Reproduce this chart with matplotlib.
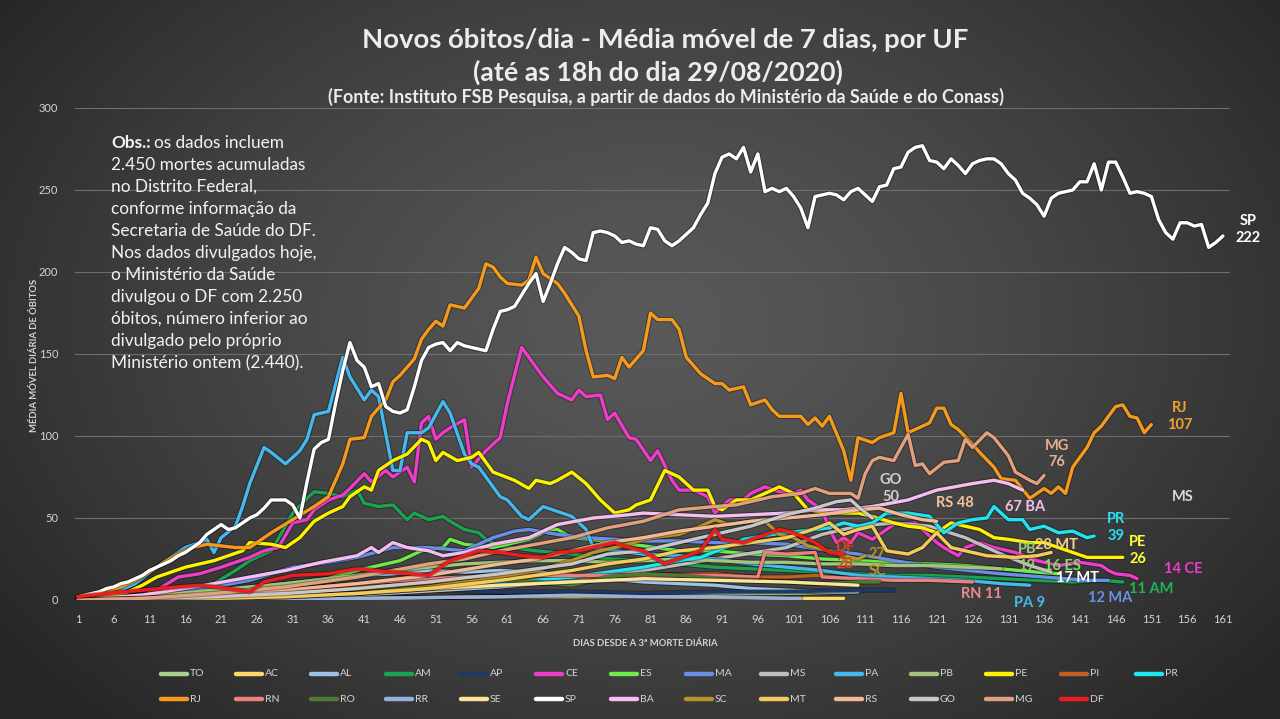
import matplotlib
matplotlib.use('Agg')
import numpy as np
import matplotlib.pyplot as plt
import matplotlib.patheffects as pe
from matplotlib.lines import Line2D

plt.rcParams['font.family'] = ['Lato', 'DejaVu Sans']

# ---------------- DATA ----------------
SP_days = list(range(1, 162))
SP_vals = [2, 3, 4, 5, 7, 8, 10, 11, 13, 15,
           18, 20, 22, 24, 27, 29, 32, 35, 40, 43,
           46, 43, 44, 47, 50, 52, 56, 61, 61, 61,
           58, 50, 72, 92, 96, 98, 120, 140, 157, 146,
           142, 130, 132, 118, 115, 114, 116, 130, 146, 154,
           156, 157, 152, 157, 155, 154, 153, 152, 165, 176,
           177, 179, 186, 193, 199, 182, 193, 205, 215, 212,
           208, 207, 224, 225, 224, 222, 218, 219, 217, 216,
           227, 226, 219, 216, 219, 223, 227, 235, 242, 260,
           270, 272, 269, 276, 261, 272, 249, 251, 249, 251,
           246, 239, 227, 246, 247, 248, 247, 244, 249, 251,
           247, 243, 252, 253, 263, 264, 273, 276, 277, 268,
           267, 263, 269, 265, 260, 266, 268, 269, 269, 266,
           260, 256, 248, 245, 241, 234, 245, 248, 249, 250,
           255, 255, 266, 250, 267, 267, 258, 248, 249, 248,
           246, 232, 224, 220, 230, 230, 228, 229, 215, 218, 222]

RJ = [(1, 1), (3, 3), (5, 5), (7, 8), (9, 12), (11, 17), (13, 23), (15, 28), (17, 32), (19, 34),
      (21, 33), (23, 32), (25, 32), (26, 35), (28, 41), (31, 49), (34, 57), (36, 63), (37, 73), (38, 83),
      (39, 98), (41, 99), (42, 112), (44, 122), (45, 133), (46, 137), (48, 147), (49, 159), (50, 165), (51, 170),
      (52, 167), (53, 180), (55, 178), (57, 190), (58, 205), (59, 203), (60, 197), (61, 193), (63, 192), (64, 195),
      (65, 209), (66, 199), (68, 193), (69, 187), (71, 173), (72, 152), (73, 136), (75, 137), (76, 135), (77, 148),
      (78, 142), (80, 152), (81, 175), (82, 171), (84, 171), (85, 165), (86, 148), (88, 138), (90, 132), (91, 132),
      (92, 128), (94, 130), (95, 119), (97, 122), (98, 116), (99, 112), (101, 112), (102, 112), (103, 107), (104, 111),
      (105, 106), (106, 112), (108, 91), (109, 73), (110, 99), (112, 96), (113, 99), (115, 102), (116, 126), (117, 102),
      (118, 104), (120, 108), (121, 117), (122, 117), (123, 107), (124, 104), (126, 95), (127, 90), (129, 81), (130, 74),
      (132, 73), (134, 62), (136, 68), (137, 65), (138, 69), (139, 65), (140, 81), (142, 93), (143, 102), (144, 106),
      (146, 118), (147, 119), (148, 112), (149, 111), (150, 102), (151, 107)]

CE = [(1, 0), (5, 1), (10, 3), (12, 6), (15, 14), (18, 16), (21, 20), (25, 26), (27, 30), (29, 32), (31, 47),
      (33, 49), (34, 55), (36, 61), (38, 64), (39, 68), (41, 77), (42, 72), (44, 79), (45, 75), (47, 81), (48, 72),
      (49, 108), (50, 112), (51, 98), (52, 102), (53, 105), (55, 110), (56, 81), (58, 91), (60, 99), (61, 120),
      (63, 154), (65, 142), (66, 136), (68, 126), (70, 122), (71, 128), (72, 124), (74, 125), (75, 110), (76, 114),
      (78, 99), (79, 98), (81, 85), (82, 91), (84, 73), (85, 67), (87, 67), (89, 63), (90, 53), (92, 61), (94, 61),
      (95, 65), (97, 69), (99, 66), (101, 65), (102, 67), (103, 61), (105, 55), (106, 43), (107, 35), (108, 38),
      (109, 35), (110, 41), (112, 37), (114, 43), (115, 46), (118, 47), (119, 43), (121, 35), (122, 32), (124, 27),
      (125, 32), (127, 35), (129, 32), (132, 29), (135, 24), (138, 21), (141, 23), (144, 21), (145, 18), (146, 16),
      (148, 15), (149, 13)]

PA = [(1, 0), (3, 1), (6, 4), (9, 10), (12, 20), (14, 26), (16, 32), (18, 35), (19, 37), (20, 29), (21, 38),
      (23, 45), (24, 57), (25, 71), (27, 93), (28, 90), (30, 83), (32, 91), (33, 98), (34, 113), (36, 115),
      (38, 148), (39, 136), (41, 122), (42, 128), (43, 124), (45, 79), (46, 79), (47, 102), (49, 102), (50, 105),
      (52, 121), (53, 114), (55, 89), (56, 83), (57, 81), (59, 69), (60, 63), (61, 61), (63, 51), (64, 49),
      (66, 57), (68, 54), (70, 51), (72, 43), (73, 32), (76, 30), (80, 28), (85, 27), (90, 25), (95, 22),
      (100, 20), (105, 18), (110, 15), (115, 14), (120, 13), (125, 12), (130, 10), (134, 9)]

PE = [(1, 0), (5, 2), (8, 5), (10, 9), (12, 14), (16, 20), (20, 24), (24, 30), (25, 35), (28, 34), (30, 32),
      (32, 38), (34, 48), (36, 53), (38, 57), (39, 63), (41, 69), (42, 67), (43, 79), (45, 85), (47, 89), (49, 98),
      (50, 96), (51, 85), (52, 90), (54, 85), (56, 87), (57, 90), (59, 78), (62, 73), (64, 68), (65, 73), (67, 71),
      (68, 73), (70, 78), (72, 71), (74, 61), (76, 53), (78, 55), (79, 58), (81, 61), (83, 79), (85, 75), (87, 67),
      (89, 67), (90, 57), (91, 55), (93, 61), (95, 61), (97, 65), (99, 69), (101, 65), (103, 55), (106, 53),
      (108, 53), (110, 53), (112, 51), (115, 47), (117, 45), (119, 44), (121, 41), (123, 47), (125, 45), (127, 43),
      (129, 38), (131, 37), (134, 35), (136, 35), (138, 32), (140, 29), (142, 26), (144, 26), (147, 26)]

AM = [(1, 0), (10, 2), (15, 5), (20, 10), (23, 18), (25, 24), (28, 30), (30, 45), (31, 53), (33, 62), (34, 66),
      (36, 65), (38, 63), (40, 67), (41, 59), (43, 57), (45, 58), (47, 49), (48, 53), (50, 49), (52, 51), (53, 48),
      (55, 43), (57, 41), (58, 37), (60, 33), (65, 30), (70, 28), (75, 25), (80, 24), (85, 22), (90, 20), (95, 19),
      (100, 18), (105, 17), (110, 16), (115, 15), (120, 15), (125, 14), (130, 13), (135, 12), (140, 11), (144, 12),
      (147, 11)]

MG = [(1, 0), (10, 1), (20, 4), (30, 8), (40, 14), (50, 22), (55, 25), (60, 30), (65, 34), (70, 38), (75, 44),
      (80, 48), (85, 55), (90, 57), (93, 58), (98, 63), (102, 65), (104, 68), (106, 65), (109, 65), (110, 62),
      (111, 77), (112, 85), (113, 87), (115, 85), (117, 101), (118, 82), (119, 83), (120, 77), (122, 84), (124, 85),
      (125, 98), (126, 93), (128, 102), (129, 99), (131, 88), (132, 78), (134, 73), (135, 71), (136, 76)]

BA = [(1, 0), (10, 3), (20, 10), (30, 18), (35, 23), (40, 27), (42, 32), (43, 29), (45, 35), (47, 32), (50, 30),
      (52, 27), (55, 29), (59, 34), (64, 38), (68, 46), (73, 50), (78, 52), (80, 53), (85, 52), (90, 51), (95, 52),
      (100, 53), (104, 55), (108, 55), (112, 57), (117, 61), (121, 67), (126, 71), (129, 73), (131, 71), (133, 67)]

GO = [(1, 0), (10, 1), (20, 2), (30, 4), (40, 7), (50, 11), (60, 16), (70, 22), (75, 28), (80, 30), (85, 35),
      (90, 40), (95, 45), (100, 52), (104, 56), (107, 60), (109, 61), (110, 57), (112, 50)]

MS = [(1, 0), (20, 1), (40, 3), (60, 8), (70, 12), (80, 18), (90, 25), (100, 32), (105, 40), (110, 45), (115, 47),
      (120, 45), (125, 38), (130, 28), (134, 21), (137, 17)]

RS = [(1, 0), (10, 1), (20, 3), (30, 6), (40, 10), (50, 15), (60, 22), (65, 25), (70, 30), (75, 35), (80, 38),
      (85, 42), (90, 45), (95, 48), (100, 50), (105, 52), (110, 55), (113, 56), (116, 52), (119, 49), (121, 48)]

PR = [(1, 0), (20, 1), (30, 2), (40, 4), (50, 7), (60, 10), (70, 14), (75, 17), (80, 20), (85, 24), (88, 26),
      (92, 33), (94, 37), (98, 40), (102, 42), (106, 44), (108, 47), (110, 45), (112, 47), (114, 53), (117, 53),
      (120, 51), (122, 41), (124, 47), (126, 49), (128, 50), (129, 57), (131, 49), (133, 49), (134, 43), (136, 45),
      (138, 41), (140, 42), (142, 38), (143, 39)]

DF = [(1, 2), (5, 4), (10, 6), (15, 8), (18, 9), (22, 7), (25, 5), (27, 11), (31, 15), (36, 16), (40, 19),
      (45, 17), (50, 15), (53, 24), (57, 30), (60, 29), (63, 27), (66, 26), (68, 29), (71, 30), (76, 35), (78, 32),
      (80, 30), (83, 22), (88, 30), (90, 43), (91, 37), (94, 35), (99, 43), (101, 41), (104, 35), (106, 29), (108, 28)]

ES = [(1, 0), (10, 1), (20, 3), (30, 8), (35, 12), (40, 18), (46, 24), (49, 30), (52, 32), (53, 37), (55, 34),
      (59, 32), (64, 37), (67, 43), (68, 43), (70, 38), (75, 36), (80, 33), (85, 30), (90, 30), (95, 28), (100, 27),
      (105, 25), (110, 24), (115, 23), (120, 22), (125, 21), (130, 19), (135, 17), (138, 16)]

MA = [(1, 0), (10, 3), (20, 8), (25, 12), (31, 20), (36, 23), (40, 26), (45, 32), (50, 32), (55, 30), (59, 38),
      (62, 42), (64, 43), (68, 40), (72, 38), (76, 37), (80, 36), (85, 36), (90, 35), (95, 35), (100, 34), (106, 30),
      (110, 28), (115, 24), (121, 20), (130, 16), (136, 14), (142, 12), (145, 12)]

MT = [(1, 0), (20, 1), (30, 2), (40, 4), (50, 7), (60, 12), (70, 18), (75, 22), (80, 25), (85, 30), (90, 32),
      (95, 35), (100, 38), (103, 42), (106, 47), (108, 40), (110, 43), (112, 45), (114, 30), (117, 28), (119, 32),
      (121, 41), (123, 32), (125, 30), (128, 27), (132, 26), (135, 27), (137, 29)]

SC = [(1, 0), (20, 1), (30, 2), (40, 4), (50, 8), (60, 14), (65, 18), (70, 24), (73, 29), (77, 33), (81, 38),
      (85, 40), (88, 45), (90, 49), (92, 46), (95, 48), (97, 48), (99, 40), (101, 38), (103, 33), (106, 30),
      (108, 27), (110, 25), (111, 27)]

PB = [(1, 0), (10, 2), (20, 6), (30, 10), (40, 15), (45, 18), (50, 20), (55, 22), (60, 23), (65, 24), (70, 24),
      (75, 23), (80, 24), (85, 25), (90, 24), (95, 23), (100, 23), (105, 22), (110, 22), (115, 21), (120, 21),
      (125, 20), (130, 19)]

RN = [(1, 0), (10, 1), (20, 3), (30, 6), (40, 10), (50, 13), (60, 15), (70, 15), (80, 15), (90, 15), (96, 14),
      (97, 29), (100, 28), (104, 29), (105, 14), (110, 13), (115, 12), (120, 12), (126, 11)]

PI = [(1, 0), (20, 2), (30, 5), (40, 8), (50, 10), (60, 12), (70, 14), (80, 15), (90, 16), (95, 14), (100, 14),
      (104, 15), (107, 14)]
RO = [(1, 0), (20, 1), (30, 3), (40, 6), (50, 8), (55, 10), (60, 12), (65, 11), (70, 9), (75, 14), (80, 16),
      (85, 15), (90, 13), (95, 12), (100, 11), (105, 10), (110, 11), (113, 11)]
AL = [(1, 0), (10, 2), (20, 5), (30, 10), (40, 15), (45, 16), (50, 18), (55, 17), (60, 18), (65, 17), (70, 15),
      (75, 13), (80, 11), (85, 10), (90, 9), (95, 7), (100, 6), (105, 5), (110, 5)]
AP = [(1, 0), (10, 1), (20, 2), (30, 3), (40, 5), (50, 6), (60, 5), (70, 5), (80, 4), (90, 5), (100, 5),
      (110, 6), (115, 6)]
TO = [(1, 0), (20, 1), (40, 1), (60, 2), (80, 3), (100, 4), (110, 5)]
AC = [(1, 0), (20, 1), (40, 1), (60, 2), (80, 2), (100, 1), (108, 1)]
RR = [(1, 0), (20, 1), (40, 1), (60, 2), (70, 3), (80, 2), (90, 2), (100, 1), (102, 1)]
SE = [(1, 0), (20, 1), (30, 2), (40, 4), (50, 7), (60, 9), (70, 11), (80, 13), (90, 12), (100, 11), (105, 10),
      (110, 9)]

SERIES = {
    'TO': TO, 'AC': AC, 'AL': AL, 'AM': AM, 'AP': AP, 'CE': CE, 'ES': ES, 'MA': MA, 'MS': MS, 'PA': PA,
    'PB': PB, 'PE': PE, 'PI': PI, 'PR': PR, 'RJ': RJ, 'RN': RN, 'RO': RO, 'RR': RR, 'SE': SE,
    'SP': list(zip(SP_days, SP_vals)), 'BA': BA, 'SC': SC, 'MT': MT, 'RS': RS, 'GO': GO, 'MG': MG, 'DF': DF,
}
ORDER = ['TO', 'AC', 'AL', 'AM', 'AP', 'CE', 'ES', 'MA', 'MS', 'PA', 'PB', 'PE', 'PI', 'PR',
         'RJ', 'RN', 'RO', 'RR', 'SE', 'SP', 'BA', 'SC', 'MT', 'RS', 'GO', 'MG', 'DF']
COLORS = {
    'TO': '#A9D18E', 'AC': '#FFD966', 'AL': '#9DC3E6', 'AM': '#1AA351', 'AP': '#1F3864', 'CE': '#F03CC8',
    'ES': '#6EEB4A', 'MA': '#6A8FE8', 'MS': '#BFBFBF', 'PA': '#45B9EE', 'PB': '#A4C47C', 'PE': '#FFF200',
    'PI': '#C0601F', 'PR': '#1FE5F0', 'RJ': '#F59A1B', 'RN': '#EE8080', 'RO': '#4E7A35', 'RR': '#98B0DC',
    'SE': '#FCE49A', 'SP': '#FFFFFF', 'BA': '#F6BDF0', 'SC': '#B8922A', 'MT': '#F5CB5C', 'RS': '#F2B994',
    'GO': '#C8C8C8', 'MG': '#E3A07C', 'DF': '#EE1C1C',
}

# end labels: (text, day, value, color)
END_LABELS = [
    ('SP\n222', 164.5, 226, '#FFFFFF'), ('RJ\n107', 154.9, 112, '#F0A030'), ('MG\n76', 137.8, 89, '#E8B090'),
    ('GO\n50', 114.6, 68, '#D0D0D0'), ('RS 48', 123.6, 59, '#F2C49A'), ('67 BA', 133.3, 57, '#F6BDF0'),
    ('MS', 155.4, 63, '#D8D8D8'), ('PR\n39', 146.1, 44, '#27E0F0'), ('PE\n26', 149.1, 30, '#FFFF33'),
    ('28 MT', 137.8, 33.5, '#F2D08A'), ('14 CE', 155.4, 19, '#F03CC8'), ('PB\n19', 133.6, 26, '#9CC878'),
    ('16 ES', 138.5, 21, '#7EE65A'), ('17 MT', 140.7, 13.4, '#FFFFFF'), ('11 AM', 150.9, 6.7, '#1FB358'),
    ('12 MA', 145.2, 1.2, '#6A8FE8'), ('RN 11', 127.3, 3.7, '#EE8A8A'), ('PA 9', 134.0, -1.8, '#45B9EE'),
    ('DF\n28', 108.2, 27, '#E8401C'), ('27\nSC', 112.7, 23, '#B8922A'),
]

TITLE = 'Novos óbitos/dia - Média móvel de 7 dias, por UF'
SUBTITLE = '(até as 18h do dia 29/08/2020)'
SOURCE = '(Fonte: Instituto FSB Pesquisa, a partir de dados do Ministério da Saúde e do Conass)'
OBS_FIRST = 'os dados incluem'
OBS_LINES = ['2.450 mortes acumuladas', 'no Distrito Federal,', 'conforme informação da',
             'Secretaria de Saúde do DF.', 'Nos dados divulgados hoje,', 'o Ministério da Saúde',
             'divulgou o DF com 2.250', 'óbitos, número inferior ao', 'divulgado pelo próprio',
             'Ministério ontem (2.440).']
X_TICKS = list(range(1, 162, 5))
Y_TICKS = list(range(0, 301, 50))

# ---------------- FIGURE ----------------
W, H = 1280, 719
fig = plt.figure(figsize=(W / 100, H / 100), dpi=100)

# radial gradient background
yy, xx = np.mgrid[0:H, 0:W]
d = np.sqrt(((xx - 650) / 800.0) ** 2 + ((yy - 320) / 560.0) ** 2)
d = np.clip(d, 0, 1)
c_in = np.array([0.35, 0.35, 0.35])
c_out = np.array([0.15, 0.15, 0.15])
img = c_in + (c_out - c_in) * (d[..., None] ** 1.3)
bg = fig.add_axes([0, 0, 1, 1])
bg.imshow(img, aspect='auto', extent=[0, W, H, 0])
bg.set_axis_off()
bg.set_zorder(-5)

ax = fig.add_axes([75 / W, (H - 600) / H, 1155 / W, 492 / H])
ax.set_zorder(1)
ax.patch.set_alpha(0)
ax.set_xlim(0.58, 161.98)
ax.set_ylim(0, 300)
for s in ax.spines.values():
    s.set_visible(False)
ax.set_yticks(Y_TICKS)
ax.set_xticks(X_TICKS)
ax.grid(axis='y', color='#6e6e6e', lw=0.8)
ax.set_axisbelow(True)
ax.tick_params(axis='both', length=0, colors='#d4d4d4', labelsize=8)
ax.tick_params(axis='y', pad=12)
ax.tick_params(axis='x', pad=10)

shadow = [pe.Stroke(linewidth=3.8, foreground=(0, 0, 0, 0.35)), pe.Normal()]
for k, name in enumerate(ORDER):
    pts = SERIES[name]
    xs = [p[0] for p in pts]
    ys = [p[1] for p in pts]
    ax.plot(xs, ys, color=COLORS[name], lw=2.4, solid_joinstyle='round', solid_capstyle='round',
            path_effects=shadow, zorder=2 + k * 0.01)

for txt, dx, vy, col in END_LABELS:
    ax.text(dx, vy, txt, color=col, fontsize=10.5, fontweight='bold', ha='center', va='center',
            linespacing=1.25, clip_on=False, zorder=5)

ax.set_xlabel('')
fig.text(645 / W, 1 - 644 / H, 'DIAS DESDE A 3ª MORTE DIÁRIA', color='#d4d4d4', fontsize=6.8,
         fontweight='bold', ha='center', va='center')
fig.text(35 / W, 1 - 355 / H, 'MÉDIA MÓVEL DIÁRIA DE ÓBITOS', color='#d4d4d4', fontsize=6.8,
         fontweight='bold', ha='center', va='center', rotation=90)

renderer = fig.canvas.get_renderer()


def fit(t, target):
    w = t.get_window_extent(renderer).width
    t.set_fontsize(t.get_fontsize() * target / w)


t1 = fig.text(665 / W, 1 - 40 / H, TITLE, color='#ECECEC', fontsize=16, fontweight='bold',
              ha='center', va='center')
fit(t1, 607)
t2 = fig.text(658 / W, 1 - 72 / H, SUBTITLE, color='#ECECEC', fontsize=16, fontweight='bold',
              ha='center', va='center')
fit(t2, 369)
t3 = fig.text(666 / W, 1 - 97 / H, SOURCE, color='#ECECEC', fontsize=9, fontweight='bold',
              ha='center', va='center')
fit(t3, 676)

# observation block
probe = fig.text(0, 0, OBS_LINES[4], fontsize=12)
fit(probe, 205)
obs_fs = probe.get_fontsize()
probe.remove()
x0 = 111
tb = fig.text(x0 / W, 1 - 143 / H, 'Obs.:', color='#F2F2F2', fontsize=obs_fs, fontweight='bold',
              ha='left', va='center')
wb = tb.get_window_extent(renderer).width
fig.text((x0 + wb + obs_fs * 0.3) / W, 1 - 143 / H, OBS_FIRST, color='#F2F2F2', fontsize=obs_fs,
         ha='left', va='center')
for i, line in enumerate(OBS_LINES):
    fig.text(x0 / W, 1 - (143 + 22 * (i + 1)) / H, line, color='#F2F2F2', fontsize=obs_fs,
             ha='left', va='center')

# legend
for i, name in enumerate(ORDER):
    row, col = divmod(i, 14)
    lx = 161 + col * 75.0
    ly = 1 - (674 + row * 25) / H
    fig.add_artist(Line2D([lx / W, (lx + 26) / W], [ly, ly], transform=fig.transFigure,
                          color=COLORS[name], lw=3.2, solid_capstyle='round'))
    fig.text((lx + 29) / W, ly, name, color='#d4d4d4', fontsize=7.5, ha='left', va='center')

fig.savefig('out.png', dpi=100)
